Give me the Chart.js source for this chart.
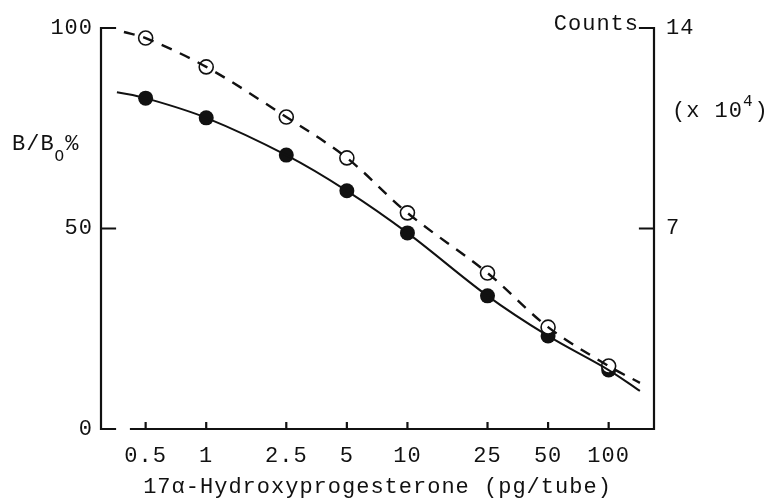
<!DOCTYPE html>
<html>
<head>
<meta charset="utf-8">
<script src="https://cdn.jsdelivr.net/npm/chart.js@4"></script>
<style>
  html, body { margin: 0; padding: 0; background: #fff; }
  #wrap { width: 768px; height: 503px; }
</style>
</head>
<body>
<div id="wrap"><canvas id="ria"></canvas></div>
<script>
// dose (pg/tube) and B/B0 %
const doses = [0.5, 1, 2.5, 5, 10, 25, 50, 100];
const filledBB = [82.5, 77.6, 68.3, 59.4, 48.9, 33.2, 23.2, 14.7];
const openBB = [97.5, 90.3, 77.8, 67.6, 53.9, 38.9, 25.4, 15.7];
// where the drawn curves start and stop (beyond the points)
const solidEnds = [[0.36, 84.0], [143, 9.5]];
const dashedEnds = [[0.39, 99.0], [143, 11.5]];
const xTicks = [0.5, 1, 2.5, 5, 10, 25, 50, 100];
const xTickLabels = ['0.5', '1', '2.5', '5', '10', '25', '50', '100'];
const leftTicks = [0, 50, 100];
const rightTicks = [7, 14];

const FONT = '"Liberation Mono", "DejaVu Sans Mono", monospace';
const FS = 22;

function pts(ys) {
    return doses.map((d, i) => ({ x: d, y: ys[i] }));
}
function curve(ys, ends) {
    return [{ x: ends[0][0], y: ends[0][1] }].concat(pts(ys), [{ x: ends[1][0], y: ends[1][1] }]);
}

const axesPlugin = {
    id: 'axesPlugin',
    beforeDraw(chart) {
        chart.ctx.letterSpacing = '1px';
    },
    afterDraw(chart) {
        const ctx = chart.ctx;
        const x = chart.scales.x, y = chart.scales.y, y2 = chart.scales.y2;
        const L = x.left, R = x.right, T = y.top, B = y.bottom;
        ctx.save();
        ctx.letterSpacing = '0px';
        ctx.strokeStyle = '#111';
        ctx.lineWidth = 2.2;
        ctx.lineCap = 'square';
        ctx.beginPath();
        // left axis with inward ticks
        ctx.moveTo(L, T); ctx.lineTo(L, B);
        leftTicks.forEach(v => {
            const py = y.getPixelForValue(v);
            ctx.moveTo(L, py); ctx.lineTo(L + 14, py);
        });
        // bottom axis, broken near the origin
        ctx.moveTo(L + 30, B); ctx.lineTo(R, B);
        xTicks.forEach(v => {
            const px = x.getPixelForValue(v);
            ctx.moveTo(px, B); ctx.lineTo(px, B - 6);
        });
        // right axis
        ctx.moveTo(R, T); ctx.lineTo(R, B);
        rightTicks.forEach(v => {
            const py = y2.getPixelForValue(v);
            ctx.moveTo(R, py); ctx.lineTo(R - 14, py);
        });
        ctx.stroke();

        ctx.fillStyle = '#111';
        ctx.textBaseline = 'alphabetic';
        ctx.letterSpacing = '1px';
        ctx.font = FS + 'px ' + FONT;
        ctx.textAlign = 'right';
        ctx.fillText('Counts', R - 15, 30);
        ctx.textAlign = 'left';
        // (x 10^4)
        let tx = 672;
        ctx.fillText('(x 10', tx, 117);
        tx += ctx.measureText('(x 10').width;
        ctx.font = '16px ' + FONT;
        ctx.fillText('4', tx, 106);
        tx += ctx.measureText('4').width + 1;
        ctx.font = FS + 'px ' + FONT;
        ctx.fillText(')', tx, 117);
        // B/B_O%
        tx = 12;
        ctx.fillText('B/B', tx, 150);
        tx += ctx.measureText('B/B').width;
        ctx.font = '16px ' + FONT;
        ctx.fillText('O', tx, 161);
        tx += ctx.measureText('O').width;
        ctx.font = FS + 'px ' + FONT;
        ctx.fillText('%', tx, 150);
        ctx.restore();
    }
};

new Chart(document.getElementById('ria'), {
    type: 'line',
    data: {
        datasets: [{
            data: curve(filledBB, solidEnds),
            borderColor: '#111',
            borderWidth: 2,
            pointRadius: 0,
            tension: 0.35,
            fill: false
        }, {
            data: curve(openBB, dashedEnds),
            borderColor: '#111',
            borderWidth: 2.4,
            borderDash: [11, 9],
            pointRadius: 0,
            tension: 0.35,
            fill: false
        }, {
            data: pts(openBB),
            showLine: false,
            pointRadius: 7,
            pointBackgroundColor: '#fff',
            pointBorderColor: '#111',
            pointBorderWidth: 1.6
        }, {
            data: pts(filledBB),
            showLine: false,
            pointRadius: 7.5,
            pointBackgroundColor: '#111',
            pointBorderColor: '#111',
            pointBorderWidth: 0
        }]
    },
    options: {
        responsive: true,
        maintainAspectRatio: false,
        animation: false,
        events: [],
        layout: { padding: { top: 28, left: 0, right: 0, bottom: 0 } },
        plugins: { legend: { display: false }, tooltip: { enabled: false } },
        scales: {
            x: {
                type: 'logarithmic',
                min: 0.318,
                max: 168,
                grid: { display: false, drawTicks: false },
                border: { display: false },
                afterBuildTicks: s => { s.ticks = xTicks.map(v => ({ value: v })); },
                afterFit: s => { s.height = 74; },
                ticks: {
                    autoSkip: false,
                    maxRotation: 0,
                    padding: 14,
                    color: '#111',
                    font: { family: FONT, size: FS },
                    callback: v => xTickLabels[xTicks.indexOf(v)]
                },
                title: {
                    display: true,
                    text: '17\u03B1-Hydroxyprogesterone (pg/tube)',
                    color: '#111',
                    font: { family: FONT, size: FS },
                    padding: { top: 0, bottom: 3 }
                }
            },
            y: {
                position: 'left',
                min: 0,
                max: 100,
                grid: { display: false, drawTicks: false },
                border: { display: false },
                afterBuildTicks: s => { s.ticks = leftTicks.map(v => ({ value: v })); },
                afterFit: s => { s.width = 101; },
                ticks: { padding: 8, color: '#111', font: { family: FONT, size: FS } }
            },
            y2: {
                position: 'right',
                min: 0,
                max: 14,
                grid: { display: false, drawTicks: false },
                border: { display: false },
                afterBuildTicks: s => { s.ticks = rightTicks.map(v => ({ value: v })); },
                afterFit: s => { s.width = 114; },
                ticks: { padding: 12, color: '#111', font: { family: FONT, size: FS } }
            }
        }
    },
    plugins: [axesPlugin]
});
</script>
</body>
</html>
